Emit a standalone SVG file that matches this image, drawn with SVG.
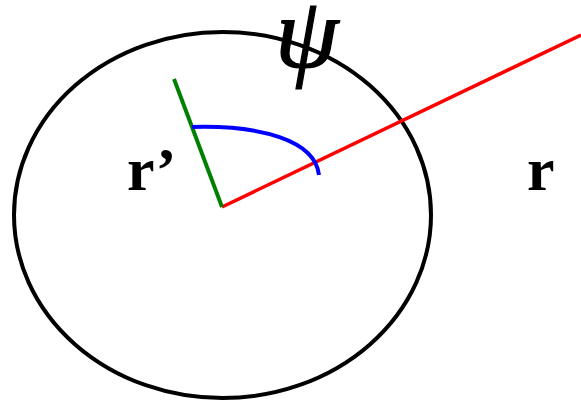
<svg xmlns="http://www.w3.org/2000/svg" width="581" height="402" viewBox="0 0 581 402">
<style>
.lbl{font-family:"Liberation Serif","Times New Roman",serif;font-weight:bold;font-size:62px;fill:#000}
.psi{font-family:"Liberation Serif","Times New Roman",serif;font-style:italic;font-size:102px;fill:#000;stroke:#000;stroke-width:1.2}
</style>
<rect width="581" height="402" fill="#fff"/>
<g id="circle"><ellipse cx="222.5" cy="215" rx="208.5" ry="183" fill="none" stroke="#000" stroke-width="4"/></g>
<g id="connectors">
<line x1="222" y1="207" x2="581" y2="35" stroke="#f00" stroke-width="3.5"/>
<line x1="222" y1="207" x2="174" y2="79" stroke="#008000" stroke-width="4"/>
<path d="M192,127 C260,125 315,140 319,175" fill="none" stroke="#00f" stroke-width="4"/>
</g>
<g id="labels">
<text class="psi" x="275" y="67">ψ</text>
<text class="lbl" x="127" y="190">r’</text>
<text class="lbl" x="527" y="190">r</text>
</g>
</svg>
